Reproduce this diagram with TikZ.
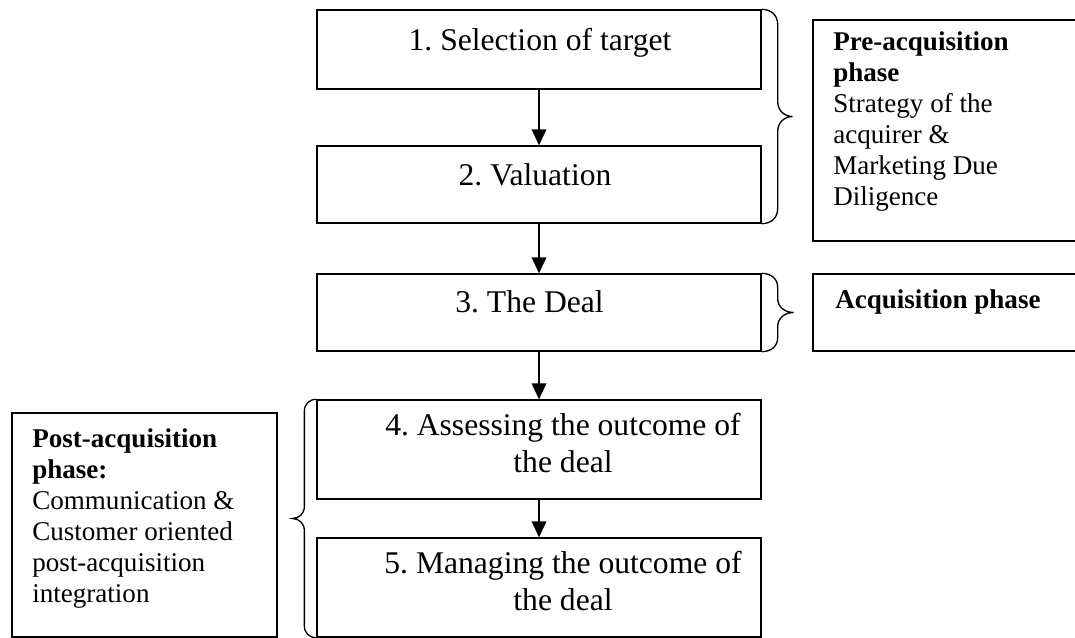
\documentclass[tikz,border=0pt]{standalone}
\usepackage{fontspec}
\setmainfont{Liberation Serif}
\frenchspacing
\usetikzlibrary{arrows.meta,calc}
\newcommand\phasebrace[5]{% #1 top, #2 bottom, #3 arm offset, #4 tip offset, #5 corner radius
  \draw[bracestyle] (#1) .. controls ($(#1)+({0.6*(#3)},0)$) and ($(#1)+(#3,{0.4*(#5)})$) .. ($(#1)+(#3,#5)$)
   -- ($(#1)!0.5!(#2)+(#3,{-(#5)})$) .. controls ($(#1)!0.5!(#2)+(#3,{-0.4*(#5)})$) and ($(#1)!0.5!(#2)+({(#3)+0.45*((#4)-(#3))},0)$) .. ($(#1)!0.5!(#2)+(#4,0)$)
   .. controls ($(#1)!0.5!(#2)+({(#3)+0.45*((#4)-(#3))},0)$) and ($(#1)!0.5!(#2)+(#3,{0.4*(#5)})$) .. ($(#1)!0.5!(#2)+(#3,#5)$)
   -- ($(#2)+(#3,{-(#5)})$) .. controls ($(#2)+(#3,{-0.4*(#5)})$) and ($(#2)+({0.6*(#3)},0)$) .. (#2);}
\begin{document}
\begin{tikzpicture}[x=0.75pt,y=-0.75pt,
  stepbox/.style={draw, line width=1pt, rectangle, inner sep=0pt, minimum width=333pt},
  sidebox/.style={draw, line width=1pt, rectangle, inner sep=0pt},
  steptext/.style={font=\fontsize{23.7}{27.75}\selectfont, inner sep=0pt, align=center, anchor=base},
  sidetext/.style={font=\fontsize{20.3}{23.25}\selectfont, inner sep=0pt, align=left, anchor=base west},
  flow/.style={line width=1pt, -{Triangle[length=12pt,width=11pt]}},
  bracestyle/.style={line width=1pt}]
\clip (0,0) rectangle (1075,637);
\useasboundingbox (0,0) rectangle (1075,637);

% step boxes
\node[stepbox, minimum height=59.25pt] (b1) at (539,49.5) {};
\node[stepbox, minimum height=57.75pt] (b2) at (539,184.5) {};
\node[stepbox, minimum height=57.75pt] (b3) at (539,312.5) {};
\node[stepbox, minimum height=74.25pt] (b4) at (539,449.5) {};
\node[stepbox, minimum height=74.25pt] (b5) at (539,587.5) {};

% step texts (anchor base = baseline of the last line)
\node[steptext] (t1) at (540,50) {1. Selection of target};
\node[steptext] (t2) at (535,185) {2. Valuation};
\node[steptext] (t3) at (529.5,312) {3. The Deal};
\node[steptext] (t4) at (563,472) {4. Assessing the outcome of\\the deal};
\node[steptext] (t5) at (563,610) {5. Managing the outcome of\\the deal};

% arrows
\draw[flow] (b1) -- (b2);
\draw[flow] (b2) -- (b3);
\draw[flow] (b3) -- (b4);
\draw[flow] (b4) -- (b5);

% side boxes
\node[sidebox, minimum width=215.25pt, minimum height=165.75pt] (pre) at (956.5,130.5) {};
\node[sidebox, minimum width=215.25pt, minimum height=57.75pt] (acq) at (956.5,312.5) {};
\node[sidebox, minimum width=198.75pt, minimum height=168pt] (post) at (144.5,525) {};

\node[sidetext] (pret) at (833,205) {\textbf{Pre-acquisition}\\\textbf{phase}\\Strategy of the\\acquirer \&\\Marketing Due\\Diligence};
\node[sidetext] (acqt) at (835,308) {\textbf{Acquisition phase}};
\node[sidetext] (postt) at (32,602) {\textbf{Post-acquisition}\\\textbf{phase:}\\Communication \&\\Customer oriented\\post-acquisition\\integration};

% braces
\phasebrace{b1.north east}{b2.south east}{16}{31}{15}
\phasebrace{b3.north east}{b3.south east}{16}{32}{14}
\phasebrace{b4.north west}{b5.south west}{-12}{-24}{12}
\end{tikzpicture}
\end{document}
